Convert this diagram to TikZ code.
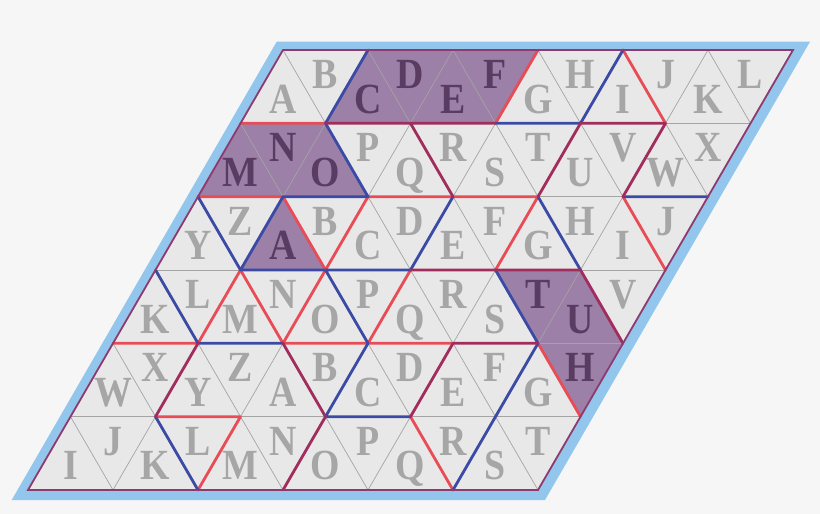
\documentclass[tikz,border=0pt]{standalone}
\usepackage{fontspec}
\setmainfont{Liberation Serif}[FakeStretch=0.88]
\definecolor{bgc}{HTML}{F6F6F6}
\definecolor{bandc}{HTML}{93C6EC}
\definecolor{cellc}{HTML}{E8E8E8}
\definecolor{shadec}{HTML}{9C80A8}
\definecolor{thinc}{HTML}{A4A4A4}
\definecolor{lred}{HTML}{E84C56}
\definecolor{lblue}{HTML}{3A4AA5}
\definecolor{lboth}{HTML}{A02D5C}
\definecolor{rimc}{HTML}{8E3A6E}
\definecolor{lettc}{HTML}{A6A6A6}
\definecolor{lettd}{HTML}{5A3C62}
\begin{document}
\begin{tikzpicture}[x=1pt,y=-1pt,
  thinedge/.style={draw=thinc, line width=0.7pt},
  redline/.style={draw=lred, line width=2.8pt, line cap=round},
  blueline/.style={draw=lblue, line width=2.8pt, line cap=round},
  bothline/.style={draw=lboth, line width=2.8pt, line cap=round},
  rim/.style={draw=rimc, line width=1.8pt, line join=miter},
  letter/.style={inner sep=0pt, anchor=base, font=\bfseries\fontsize{43}{43}\selectfont}
]
\fill[bgc] (0,0) rectangle (820,514);
\useasboundingbox (0,0) rectangle (820,514);
% outer light-blue band
\coordinate (b1) at (276.7,41.7);
\coordinate (b2) at (810,41.7);
\coordinate (b3) at (545,500);
\coordinate (b4) at (11.7,500);
\fill[bandc] (b1) -- (b2) -- (b3) -- (b4) -- cycle;
% lattice points
\foreach \rr in {0,...,6}{
  \foreach \ii in {0,...,6}{
    \coordinate (p\ii-\rr) at ({283-42.5*\rr+85*\ii},{50+73.3333*\rr});
  }
}
\fill[cellc] (p0-0) -- (p6-0) -- (p6-6) -- (p0-6) -- cycle;
% shaded triangles
\fill[shadec] (p1-0) -- (p3-0) -- (p3-1) -- (p1-1) -- cycle;
\fill[shadec] (p0-1) -- (p1-1) -- (p2-2) -- (p0-2) -- cycle;
\fill[shadec] (p1-2) -- (p2-3) -- (p1-3) -- cycle;
\fill[shadec] (p4-3) -- (p5-3) -- (p6-4) -- (p6-5) -- (p5-4) -- cycle;
% thin grid lines
\foreach \rr in {1,...,5}{\draw[thinedge] (p0-\rr) -- (p6-\rr);}
\foreach \ii in {1,...,5}{\draw[thinedge] (p\ii-0) -- (p\ii-6);}
\foreach \dd in {0,...,5}{\pgfmathtruncatemacro\ee{6-\dd}\draw[thinedge] (p\dd-0) -- (p6-\ee);}
\foreach \dd in {1,...,5}{\pgfmathtruncatemacro\ee{6-\dd}\draw[thinedge] (p0-\dd) -- (p\ee-6);}
% letters
\foreach \rr in {0,...,5}{
  \foreach \ti in {0,...,11}{
    \pgfmathtruncatemacro\kk{\ti/2}
    \pgfmathtruncatemacro\oddv{mod(\ti,2)}
    \pgfmathsetmacro\lx{283-42.5*\rr+85*\kk+42.5*\oddv}
    \pgfmathsetmacro\ly{50+73.3333*\rr+73.3333*(2-\oddv)/3+14.2}
    \pgfmathtruncatemacro\idx{mod(12*\rr+\ti,26)}
    \pgfmathtruncatemacro\cc{100*\rr+\ti}
    \pgfmathtruncatemacro\sh{(\cc==2)||(\cc==3)||(\cc==4)||(\cc==5)||(\cc==100)||(\cc==101)||(\cc==102)||(\cc==202)||(\cc==309)||(\cc==310)||(\cc==411)}
    \ifnum\sh=1 \def\lc{lettd}\else\def\lc{lettc}\fi
    \node[letter,text=\lc] (l\rr-\ti) at (\lx,\ly) {\char\numexpr65+\idx\relax};
  }
}
% red outlines
\draw[redline] (p3-0)--(p3-1) (p4-0)--(p5-1) (p0-1)--(p1-1) (p0-2)--(p1-2)
  (p2-2)--(p4-2) (p1-2)--(p2-3) (p2-2)--(p2-3) (p4-2)--(p4-3) (p5-2)--(p6-3)
  (p1-3)--(p1-4) (p1-3)--(p2-4) (p2-3)--(p2-4) (p3-3)--(p3-4) (p0-4)--(p1-4)
  (p2-4)--(p4-4) (p5-4)--(p6-5) (p1-5)--(p2-5) (p2-5)--(p2-6) (p4-5)--(p5-6);
% blue outlines
\draw[blueline] (p1-0)--(p1-1) (p4-0)--(p4-1) (p3-1)--(p4-1) (p1-1)--(p2-2)
  (p1-2)--(p2-2) (p5-2)--(p6-2) (p0-2)--(p1-3) (p1-2)--(p1-3) (p3-2)--(p3-3)
  (p4-2)--(p5-3) (p1-3)--(p3-3) (p0-3)--(p1-4) (p2-3)--(p3-4) (p4-3)--(p5-4)
  (p1-4)--(p2-4) (p3-4)--(p3-5) (p5-4)--(p5-5) (p3-5)--(p4-5) (p1-5)--(p2-6)
  (p5-5)--(p5-6);
% shared (red and blue) outlines
\draw[bothline] (p1-1)--(p3-1) (p4-1)--(p5-1) (p2-1)--(p3-2) (p4-1)--(p4-2)
  (p5-1)--(p5-2) (p3-3)--(p5-3) (p5-3)--(p6-4) (p4-4)--(p5-4) (p1-4)--(p1-5)
  (p2-4)--(p3-5) (p4-4)--(p4-5) (p3-5)--(p3-6);
% outer rim
\draw[rim] (p0-0) -- (p6-0) -- (p6-6) -- (p0-6) -- cycle;
\end{tikzpicture}
\end{document}
